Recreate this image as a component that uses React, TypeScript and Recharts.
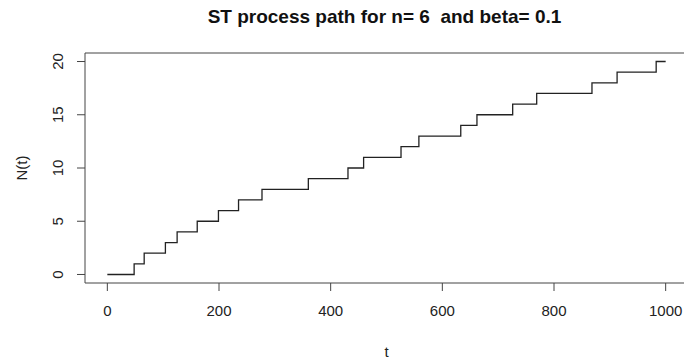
import React from 'react';
import { LineChart, Line, XAxis, YAxis, ReferenceLine } from 'recharts';

// jump times of the counting process, and the value after each jump
const jumpTimes = [0, 48, 66, 104, 125, 161, 199, 235, 277, 360, 431, 459, 526, 558, 633, 662, 726, 769, 868, 913, 983, 1000];
const counts = [0, 1, 2, 3, 4, 5, 6, 7, 8, 9, 10, 11, 12, 13, 14, 15, 16, 17, 18, 19, 20, 20];

const xTicks = [0, 200, 400, 600, 800, 1000];
const yTicks = [0, 5, 10, 15, 20];

const pathData = jumpTimes.map((t, i) => ({ t, n: counts[i] }));

const FONT = '"Liberation Sans", Arial, sans-serif';
const AXIS = '#444';

const YTick = ({ x, y, payload }: any) => (
  <text
    transform={`translate(${x - 12},${y}) rotate(-90)`}
    textAnchor="middle"
    fontFamily={FONT}
    fontSize={15}
    fill="#222"
  >
    {payload.value}
  </text>
);

export default function App() {
  return (
    <div style={{ position: 'absolute', left: 0, top: 0, width: 684, height: 361, overflow: 'hidden', background: '#fff' }}>
      <div
        style={{
          position: 'absolute', left: 0, top: 7, width: 769, textAlign: 'center', lineHeight: '19px',
          fontFamily: FONT, fontWeight: 'bold', fontSize: 19, whiteSpace: 'pre', color: '#111',
        }}
      >
        {'ST process path for n= 6  and beta= 0.1'}
      </div>
      <LineChart width={700} height={361} data={pathData} margin={{ top: 53, right: 12, bottom: 0, left: 0 }}>
        <XAxis
          dataKey="t"
          type="number"
          domain={[-40, 1040]}
          ticks={xTicks}
          height={78}
          tickSize={8}
          tickMargin={14}
          stroke={AXIS}
          tick={{ fontFamily: FONT, fontSize: 15, fill: '#222' }}
          label={{
            content: (p: any) => (
              <text x={p.viewBox.x + p.viewBox.width / 2} y={p.viewBox.y + 74} textAnchor="middle" fontFamily={FONT} fontSize={15} fill="#222">t</text>
            ),
          }}
        />
        <YAxis
          type="number"
          domain={[-0.8, 20.8]}
          ticks={yTicks}
          width={85}
          tickSize={8}
          stroke={AXIS}
          tick={<YTick />}
          label={{
            content: (p: any) => (
              <text
                transform={`translate(${p.viewBox.x + 27},${p.viewBox.y + p.viewBox.height / 2}) rotate(-90)`}
                textAnchor="middle" fontFamily={FONT} fontSize={15} fill="#222"
              >
                N(t)
              </text>
            ),
          }}
        />
        <ReferenceLine y={20.8} stroke={AXIS} />
        <ReferenceLine x={1040} stroke={AXIS} />
        <Line type="stepAfter" dataKey="n" stroke="#222" strokeWidth={1.3} dot={false} isAnimationActive={false} />
      </LineChart>
    </div>
  );
}
